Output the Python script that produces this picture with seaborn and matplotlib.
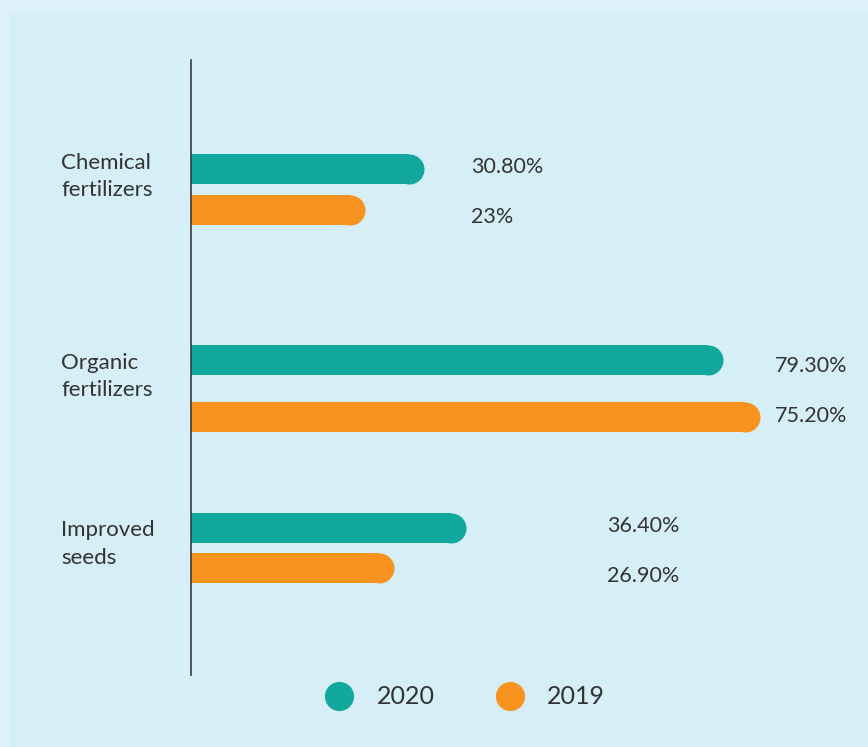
import matplotlib
matplotlib.use("Agg")
import matplotlib.pyplot as plt
import matplotlib.transforms as mtransforms
from matplotlib.lines import Line2D
from matplotlib.patches import Rectangle
import seaborn as sns

# Data
categories = ["Chemical\nfertilizers", "Organic\nfertilizers", "Improved\nseeds"]
series_names = ["2020", "2019"]
# bar lengths as drawn (the organic 2020 bar is drawn shorter than its label says)
values_2020 = [30.8, 70.3, 36.4]
values_2019 = [23.0, 75.2, 26.9]
labels_2020 = ["30.80%", "79.30%", "36.40%"]
labels_2019 = ["23%", "75.20%", "26.90%"]

teal = "#12a89d"
orange = "#f7931e"
text_col = "#333333"

sns.set_theme(style="white")
plt.rcParams["font.family"] = ["Lato", "DejaVu Sans"]

W, H = 868, 747
fig = plt.figure(figsize=(W / 100, H / 100), dpi=100)
fig.patch.set_facecolor("#dff2fa")
fig.patches.append(Rectangle((9 / W, 0), 1, (H - 11) / H, transform=fig.transFigure,
                             facecolor="#d6eef6", edgecolor="none", zorder=-5))

# axes spans x 191..868 px, y 60..675 px
ax = fig.add_axes([191 / W, (H - 675) / H, (W - 191) / W, 615 / H])
ax.set_facecolor("none")

px_x = 7.565            # pixels per percent
px_y = 179.25           # pixels per y unit
ax.set_xlim(0, (W - 191) / px_x)
ax.set_ylim((675 - 189.5) / px_y, (60 - 189.5) / px_y)

# layout: group centres and half gaps between the two bars (y units)
group_pos = [0.0, 1.11, 2.0]
half_gap = [0.114, 0.159, 0.112]
bar_h = 30 / px_y
r = 15 / px_x           # radius of the rounded end in percent units
cap_pt = 30 * 72 / 100  # bar thickness in points

for i in range(len(categories)):
    for v, sign, col in [(values_2020[i], -1, teal), (values_2019[i], 1, orange)]:
        y = group_pos[i] + sign * half_gap[i]
        ax.barh(y, v - r, height=bar_h, color=col, linewidth=0, zorder=2)
        ax.scatter([v - r], [y], s=cap_pt ** 2, color=col, linewidths=0, zorder=2)

# value labels
label_x = [37.0, 77.2, 55.0]
for i in range(len(categories)):
    ax.text(label_x[i], group_pos[i] - 0.125, labels_2020[i], ha="left", va="center",
            fontsize=15.5, color=text_col)
    ax.text(label_x[i], group_pos[i] + 0.155, labels_2019[i], ha="left", va="center",
            fontsize=15.5, color=text_col)

# category labels on the left
cat_dy = [-13 / px_y, -12 / px_y, -4 / px_y]
trans = mtransforms.blended_transform_factory(fig.transFigure, ax.transData)
for i, cat in enumerate(categories):
    ax.text(61 / W, group_pos[i] + cat_dy[i], cat, transform=trans, ha="left", va="center",
            fontsize=16, color=text_col, linespacing=1.45)

for s in ["top", "right", "bottom"]:
    ax.spines[s].set_visible(False)
ax.spines["left"].set_color("#3a3a3a")
ax.spines["left"].set_linewidth(1.2)
ax.set_xticks([])
ax.set_yticks([])

handles = [Line2D([], [], marker="o", linestyle="none", markersize=21,
                  markerfacecolor=c, markeredgewidth=0) for c in [teal, orange]]
leg = fig.legend(handles, series_names, loc="center", bbox_to_anchor=(466 / W, (H - 697) / H),
                 ncol=2, frameon=False, fontsize=18, handlelength=1.0,
                 handletextpad=1.0, columnspacing=2.5)
for t in leg.get_texts():
    t.set_color(text_col)

fig.savefig("out.png", dpi=100)
